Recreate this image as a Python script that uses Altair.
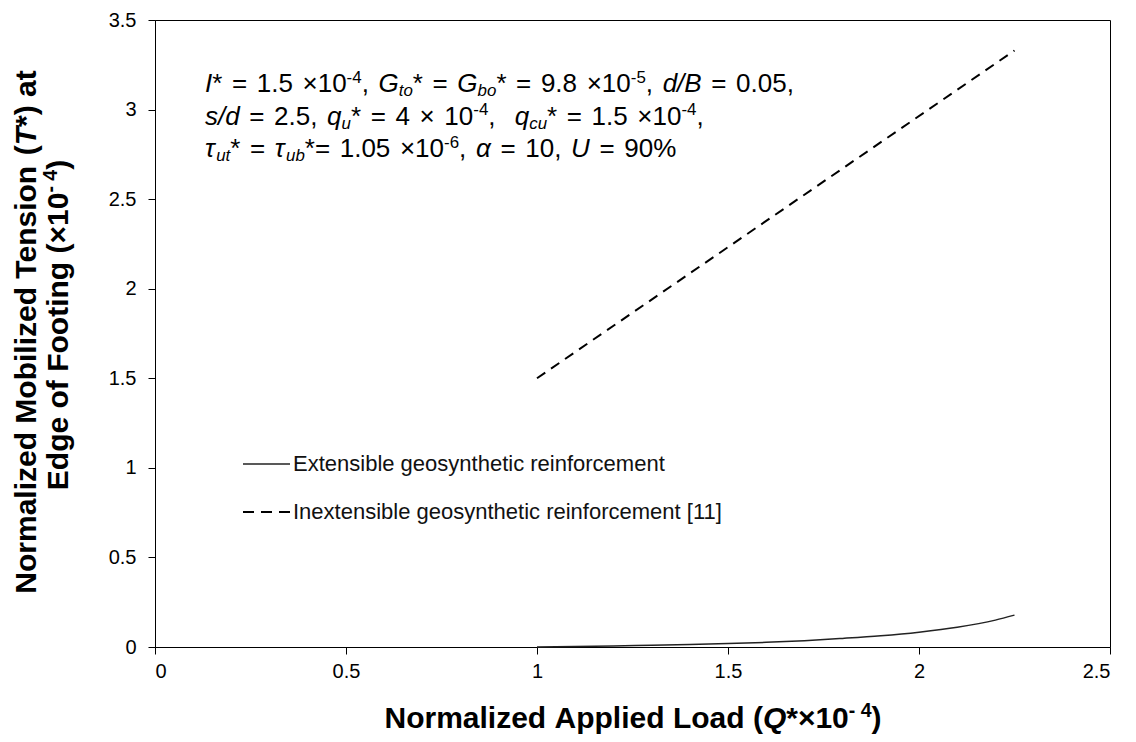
import re
import altair as alt
import pandas as pd

# ---------------- data ----------------
q_ext = [1.0, 1.1, 1.2, 1.3, 1.4, 1.5, 1.6, 1.7, 1.8, 1.9, 2.0, 2.1, 2.2, 2.25]
t_ext = [0.0, 0.003, 0.006, 0.010, 0.014, 0.019, 0.026, 0.035, 0.048, 0.063, 0.083, 0.11, 0.15, 0.178]
q_inext = [1.0, 2.25]
t_inext = [1.5, 3.33]

x_ticks = [0, 0.5, 1, 1.5, 2, 2.5]
y_ticks = [0, 0.5, 1, 1.5, 2, 2.5, 3, 3.5]
legend_labels = ["Extensible geosynthetic reinforcement",
                 "Inextensible geosynthetic reinforcement [11]"]

# rich-text annotation (segment text, kind)
note_lines = [
    [("I", "i"), ("* = 1.5 ×10", "n"), ("-4", "sup"), (", ", "n"), ("G", "i"), ("to", "sub"),
     ("* = ", "n"), ("G", "i"), ("bo", "sub"), ("* = 9.8 ×10", "n"), ("-5", "sup"), (", ", "n"),
     ("d/B", "i"), (" = 0.05,", "n")],
    [("s/d", "i"), (" = 2.5, ", "n"), ("q", "i"), ("u", "sub"), ("* = 4 × 10", "n"), ("-4", "sup"),
     (",  ", "n"), ("q", "i"), ("cu", "sub"), ("* = 1.5 ×10", "n"), ("-4", "sup"), (",", "n")],
    [("τ", "i"), ("ut", "sub"), ("* = ", "n"), ("τ", "i"), ("ub", "sub"), ("*= 1.05 ×10", "n"),
     ("-6", "sup"), (", ", "n"), ("α", "i"), (" = 10, ", "n"), ("U", "i"), (" = 90%", "n")],
]
x_title = [("Normalized Applied Load (", "b"), ("Q", "bi"), ("*×10", "b"), ("- 4", "bsup"), (")", "b")]
y_title_1 = [("Normalized Mobilized Tension (", "b"), ("T", "bi"), ("*) at", "b")]
y_title_2 = [("Edge of Footing (×10", "b"), ("- 4", "bsup"), (")", "b")]

# ---------------- layout helpers ----------------
W = 955
H = 627
OX, OY = 155, 20  # plot origin on the page

REG = {' ': 278, '%': 889, '(': 333, ')': 333, '*': 389, ',': 278, '-': 333, '.': 278, '/': 278,
       '=': 584, '×': 584, '[': 278, ']': 278, 'τ': 430, 'α': 578,
       'A': 667, 'B': 667, 'C': 722, 'D': 722, 'E': 667, 'F': 611, 'G': 778, 'I': 278, 'L': 556,
       'M': 833, 'N': 722, 'Q': 778, 'T': 611, 'U': 722,
       'a': 556, 'b': 556, 'c': 500, 'd': 556, 'e': 556, 'f': 278, 'g': 556, 'h': 556, 'i': 222,
       'l': 222, 'm': 833, 'n': 556, 'o': 556, 'p': 556, 'q': 556, 'r': 333, 's': 500, 't': 278,
       'u': 556, 'x': 500, 'y': 500, 'z': 500}
BOLD = {' ': 278, '(': 333, ')': 333, '*': 389, '-': 333, '×': 584,
        'A': 722, 'E': 667, 'F': 611, 'L': 611, 'M': 833, 'N': 722, 'Q': 778, 'T': 611,
        'a': 556, 'b': 611, 'd': 611, 'e': 556, 'f': 333, 'g': 611, 'i': 278, 'l': 278, 'm': 889,
        'n': 611, 'o': 611, 'p': 611, 'r': 389, 's': 556, 't': 333, 'z': 500}

KINDS = {
    'n': ("normal", "normal", 1.0, 0.0),
    'i': ("italic", "normal", 1.0, 0.0),
    'sub': ("italic", "normal", 0.65, 0.17),
    'sup': ("normal", "normal", 0.65, -0.36),
    'b': ("normal", "bold", 1.0, 0.0),
    'bi': ("italic", "bold", 1.0, 0.0),
    'bsup': ("normal", "bold", 0.65, -0.36),
}


def text_w(s, bold):
    table = BOLD if bold else REG
    return sum(table.get(ch, 556) for ch in s) / 1000.0


def layout(segs, fs, x0, y0, space_em=0.278, rotate=False, center=False):
    rows = []
    adv = 0.0
    for text, kind in segs:
        style, weight, scale, dy = KINDS[kind]
        bold = weight == "bold"
        for run in re.findall(r" +|[^ ]+", text):
            size = fs * scale
            if run.startswith(" "):
                adv += len(run) * space_em * size
                continue
            rows.append(dict(text=run, adv=adv, dy=dy * fs, size=size,
                             style=style, weight=weight))
            adv += text_w(run, bold) * size
    shift = -adv / 2 if center else 0.0
    out = []
    for r in rows:
        a = r["adv"] + shift
        if rotate:
            px, py, ang = x0 + r["dy"], y0 - a, 270
        else:
            px, py, ang = x0 + a, y0 + r["dy"], 0
        out.append(dict(text=r["text"], px=px - OX, py=py - OY, size=r["size"],
                        style=r["style"], weight=r["weight"], angle=ang))
    return out


rich_rows = []
for i, ln in enumerate(note_lines):
    rich_rows += layout(ln, 26, 205, 92 + i * 32.5, space_em=0.37)
rich_rows += layout(x_title, 30, 633, 728, center=True)
rich_rows += layout(y_title_1, 30, 36, 332, rotate=True, center=True)
rich_rows += layout(y_title_2, 30, 68, 325, rotate=True, center=True)
rich = pd.DataFrame(rich_rows)

# ---------------- chart ----------------
font = "Liberation Sans"
df_ext = pd.DataFrame({"q": q_ext, "t": t_ext})
df_inext = pd.DataFrame({"q": q_inext, "t": t_inext})

xscale = alt.Scale(domain=[0, 2.5], nice=False)
yscale = alt.Scale(domain=[0, 3.5], nice=False)
xaxis = alt.Axis(values=x_ticks, title="", format="~g", grid=False, labelPadding=7)
yaxis = alt.Axis(values=y_ticks, title="", format="~g", grid=False, labelPadding=12)

ext = alt.Chart(df_ext).mark_line(color="#222222", strokeWidth=1.5, interpolate="monotone").encode(
    x=alt.X("q:Q", scale=xscale, axis=xaxis),
    y=alt.Y("t:Q", scale=yscale, axis=yaxis),
)
inext = alt.Chart(df_inext).mark_line(color="black", strokeWidth=2, strokeDash=[10, 7]).encode(
    x=alt.X("q:Q", scale=xscale, axis=xaxis),
    y=alt.Y("t:Q", scale=yscale, axis=yaxis),
)

layers = [ext, inext]

# legend (manual, inside plot)
leg = pd.DataFrame({"label": legend_labels,
                    "lx1": [243 - OX, 243 - OX], "lx2": [290 - OX, 290 - OX],
                    "ly": [464 - OY, 512 - OY], "tx": [293 - OX, 293 - OX],
                    "ty": [471 - OY, 519 - OY], "dash": ["solid", "dash"]})
leg_solid = alt.Chart(leg[leg.dash == "solid"]).mark_rule(color="#222222", strokeWidth=1.5).encode(
    x=alt.X("lx1:Q", scale=None, axis=None), x2="lx2:Q", y=alt.Y("ly:Q", scale=None, axis=None))
leg_dash = alt.Chart(leg[leg.dash == "dash"]).mark_rule(color="black", strokeWidth=2,
                                                         strokeDash=[11, 7]).encode(
    x=alt.X("lx1:Q", scale=None, axis=None), x2="lx2:Q", y=alt.Y("ly:Q", scale=None, axis=None))
leg_text = alt.Chart(leg).mark_text(align="left", baseline="alphabetic", font=font,
                                    fontSize=22, color="#111111").encode(
    x=alt.X("tx:Q", scale=None, axis=None), y=alt.Y("ty:Q", scale=None, axis=None),
    text="label:N")
layers += [leg_solid, leg_dash, leg_text]

for (style, weight, angle), sub in rich.groupby(["style", "weight", "angle"]):
    layers.append(
        alt.Chart(sub).mark_text(align="left", baseline="alphabetic", font=font,
                                 fontStyle=style, fontWeight=weight, angle=int(angle),
                                 color="black").encode(
            x=alt.X("px:Q", scale=None, axis=None),
            y=alt.Y("py:Q", scale=None, axis=None),
            text="text:N",
            size=alt.Size("size:Q", scale=None, legend=None),
        )
    )

chart = alt.layer(*layers).properties(
    width=W, height=H,
    autosize=alt.AutoSizeParams(type="none"),
    padding={"left": OX - 8, "top": OY - 8, "right": 10, "bottom": 87},
    background="white",
).configure_view(stroke="black", strokeWidth=1).configure_axis(
    domainColor="black", tickColor="black", labelColor="black", labelFont=font,
    labelFontSize=20, tickSize=7, domainWidth=1, tickWidth=1,
)

chart.save("out.html", embed_options={"renderer": "svg", "actions": False})
